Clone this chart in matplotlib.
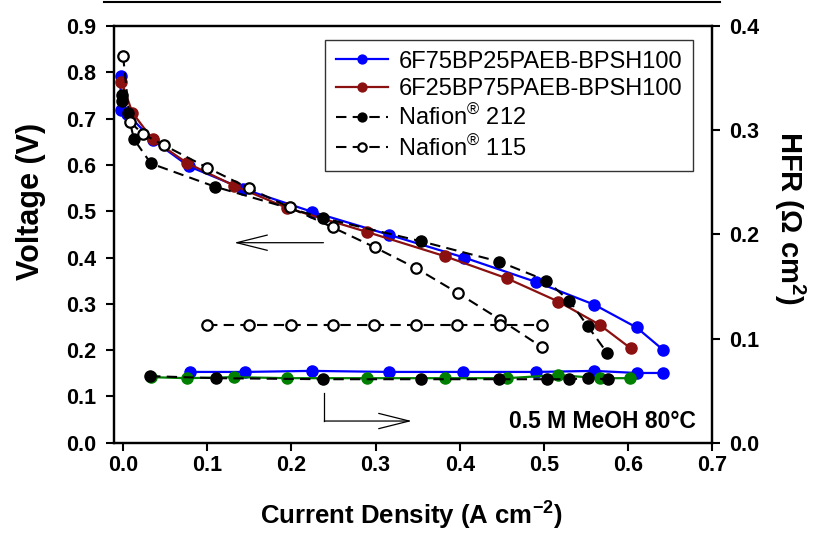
import matplotlib
matplotlib.use("Agg")
import matplotlib.pyplot as plt
from matplotlib.lines import Line2D

plt.rcParams['font.family'] = ['Liberation Sans', 'DejaVu Sans']
plt.rcParams['mathtext.fontset'] = 'custom'
plt.rcParams['mathtext.rm'] = 'Liberation Sans'
plt.rcParams['mathtext.bf'] = 'Liberation Sans:bold'
plt.rcParams['mathtext.it'] = 'Liberation Sans:italic'

# ---- polarization data (left axis) ----
blue_x = [-0.003, -0.003, 0.005, 0.035, 0.078, 0.143, 0.224, 0.316, 0.405, 0.491, 0.56, 0.61, 0.642]
blue_v = [0.791, 0.719, 0.71, 0.654, 0.597, 0.548, 0.499, 0.449, 0.40, 0.347, 0.298, 0.249, 0.20]

red_x = [-0.002, 0.011, 0.035, 0.076, 0.132, 0.195, 0.29, 0.382, 0.456, 0.517, 0.566, 0.603]
red_v = [0.78, 0.713, 0.655, 0.604, 0.555, 0.507, 0.455, 0.403, 0.355, 0.305, 0.255, 0.204]

n212_x = [-0.001, -0.001, 0.0055, 0.013, 0.033, 0.109, 0.238, 0.354, 0.447, 0.503, 0.53, 0.552, 0.575]
n212_v = [0.751, 0.737, 0.712, 0.655, 0.603, 0.553, 0.485, 0.435, 0.391, 0.35, 0.307, 0.252, 0.194]

n115_x = [0.0, 0.008, 0.024, 0.049, 0.1, 0.149, 0.198, 0.249, 0.299, 0.348, 0.398, 0.448, 0.498]
n115_v = [0.835, 0.693, 0.666, 0.642, 0.594, 0.55, 0.508, 0.465, 0.422, 0.377, 0.323, 0.266, 0.206]

# ---- HFR data (right axis) ----
blue_hx = [0.079, 0.145, 0.224, 0.316, 0.404, 0.49, 0.56, 0.61, 0.642]
blue_h = [0.068, 0.068, 0.069, 0.068, 0.068, 0.068, 0.069, 0.067, 0.067]

green_hx = [0.033, 0.076, 0.132, 0.195, 0.29, 0.383, 0.456, 0.517, 0.566, 0.602]
green_h = [0.063, 0.062, 0.063, 0.062, 0.062, 0.062, 0.062, 0.065, 0.062, 0.062]

n212_hx = [0.032, 0.11, 0.238, 0.354, 0.447, 0.504, 0.53, 0.552, 0.576]
n212_h = [0.064, 0.062, 0.061, 0.061, 0.061, 0.061, 0.061, 0.062, 0.061]

n115_hx = [0.1, 0.15, 0.199, 0.249, 0.298, 0.348, 0.397, 0.448, 0.498]
n115_h = [0.113, 0.113, 0.113, 0.113, 0.113, 0.113, 0.113, 0.113, 0.113]

labels = ['6F75BP25PAEB-BPSH100', '6F25BP75PAEB-BPSH100',
          'Nafion$^{®}$ 212', 'Nafion$^{®}$ 115']

xticks = [0.0, 0.1, 0.2, 0.3, 0.4, 0.5, 0.6, 0.7]
yticks_l = [0.0, 0.1, 0.2, 0.3, 0.4, 0.5, 0.6, 0.7, 0.8, 0.9]
yticks_r = [0.0, 0.1, 0.2, 0.3, 0.4]

BLUE = '#0000ff'
RED = '#8b1010'
GREEN = '#008000'
dash = (5, 3)
ms = 8

fig = plt.figure(figsize=(8.15, 5.4), dpi=100)
ax = fig.add_axes([0.140, 0.180, 0.734, 0.772])
ax2 = ax.twinx()

# polarization
l1, = ax.plot(blue_x, blue_v, '-o', color=BLUE, lw=1.6, ms=ms, zorder=3)
l2, = ax.plot(red_x, red_v, '-o', color=RED, lw=1.6, ms=ms, zorder=4)
l3, = ax.plot(n212_x, n212_v, 'o', color='k', ls='--', dashes=dash, lw=1.5, ms=ms, zorder=5)
l4, = ax.plot(n115_x, n115_v, 'o', color='k', mfc='white', mec='k', mew=1.6,
              ls='--', dashes=dash, lw=1.5, ms=ms - 0.5, zorder=6)

# HFR
ax2.plot(blue_hx, blue_h, '-o', color=BLUE, lw=1.6, ms=ms, zorder=3)
ax2.plot(green_hx, green_h, '-o', color=GREEN, lw=1.6, ms=ms, zorder=3)
ax2.plot(n212_hx, n212_h, 'o', color='k', ls='--', dashes=dash, lw=1.5, ms=ms, zorder=4)
ax2.plot(n115_hx, n115_h, 'o', color='k', mfc='white', mec='k', mew=1.6,
         ls='--', dashes=dash, lw=1.5, ms=ms - 0.5, zorder=5)

ax.set_xlim(-0.0107, 0.7)
ax.set_ylim(0, 0.9)
ax2.set_ylim(0, 0.4)
ax.set_xticks(xticks)
ax.set_xticklabels([f'{v:.1f}' for v in xticks])
ax.set_yticks(yticks_l)
ax.set_yticklabels([f'{v:.1f}' for v in yticks_l])
ax2.set_yticks(yticks_r)
ax2.set_yticklabels([f'{v:.1f}' for v in yticks_r])

for a in (ax, ax2):
    for s in a.spines.values():
        s.set_linewidth(1.6)
    a.tick_params(direction='out', length=6, width=1.5, labelsize=15.5)
    for lab in a.get_xticklabels() + a.get_yticklabels():
        lab.set_fontweight('bold')
ax.tick_params(axis='x', pad=3)
ax.tick_params(axis='y', pad=7)
ax2.tick_params(axis='y', pad=6)

ax.set_xlabel('Current Density (A cm$^{\\mathbf{-2}}$)', fontsize=18.5, fontweight='bold', va='center')
ax.xaxis.set_label_coords(0.497, -0.175)
ax.set_ylabel('Voltage (V)', fontsize=22, fontweight='bold', va='center')
ax.yaxis.set_label_coords(-0.139, 0.578)
ax2.set_ylabel('HFR ($\\mathbf{\\Omega}$ cm$^{\\mathbf{2}}$)', fontsize=21, fontweight='bold',
               rotation=270, va='center')
ax2.yaxis.set_label_coords(1.13, 0.54)

leg = ax.legend([l1, l2, l3, l4], labels, loc='upper right', bbox_to_anchor=(0.967, 0.966),
                fontsize=17, frameon=True, fancybox=False, edgecolor='k',
                handlelength=2.2, borderpad=0.45, labelspacing=0.22, handletextpad=0.45,
                borderaxespad=0, markerscale=0.8)
leg.get_frame().set_linewidth(1.0)
leg.set_zorder(10)

ax.text(0.972, 0.052, '0.5 M MeOH 80°C', transform=ax.transAxes, ha='right', va='center',
        fontsize=16.5, fontweight='bold')

# arrows
ax.annotate('', xy=(0.132, 0.432), xytext=(0.238, 0.432),
            arrowprops=dict(arrowstyle='->,head_length=2.2,head_width=0.55', lw=0.9, color='k',
                            shrinkA=0, shrinkB=0))
ax.plot([0.239, 0.239], [0.108, 0.047], color='k', lw=0.9)
ax.annotate('', xy=(0.343, 0.047), xytext=(0.239, 0.047),
            arrowprops=dict(arrowstyle='->,head_length=2.2,head_width=0.55', lw=0.9, color='k',
                            shrinkA=0, shrinkB=0))

fig.add_artist(Line2D([104 / 815, 720 / 815], [1 - 1.5 / 540, 1 - 1.5 / 540],
                      color='k', lw=1.5, transform=fig.transFigure))

fig.savefig('out.png', dpi=100)
